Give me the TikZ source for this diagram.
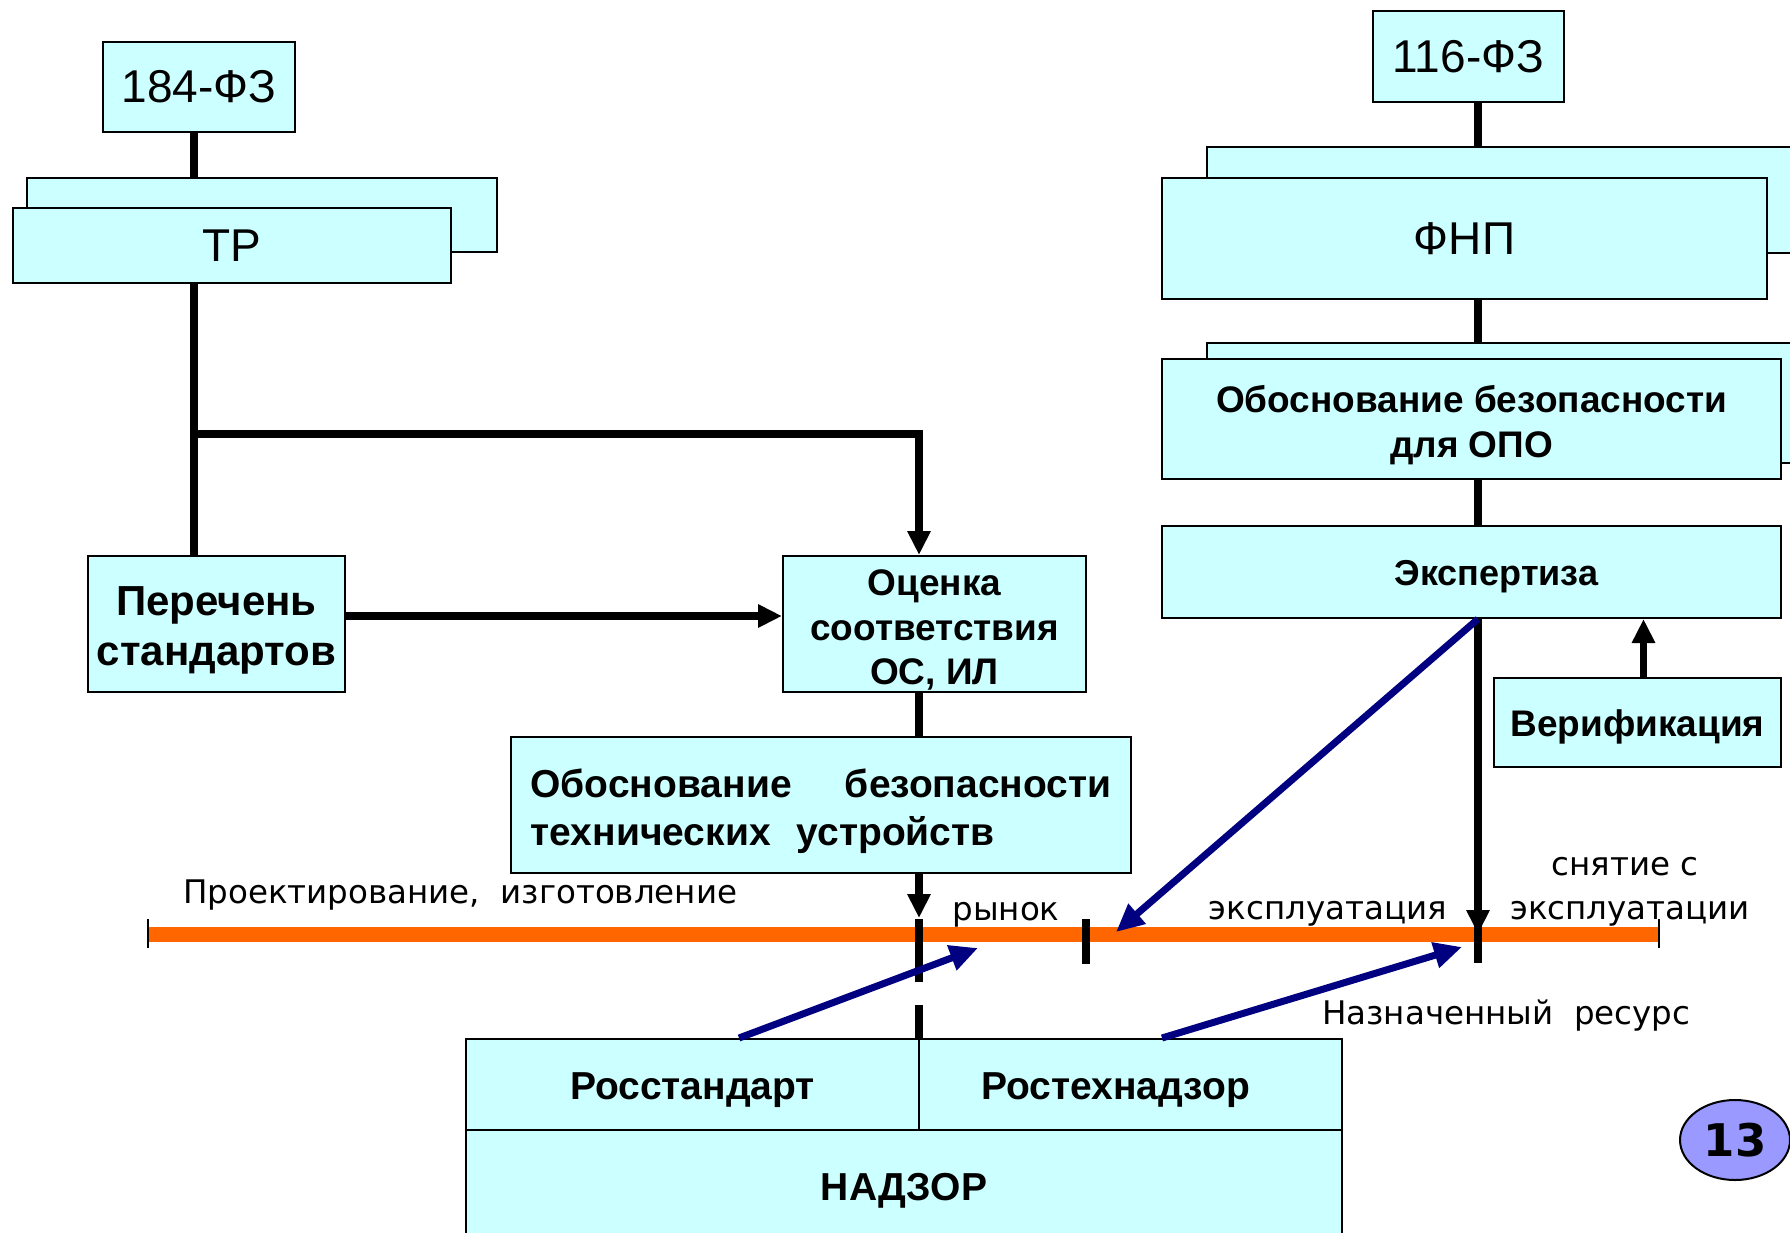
\documentclass[tikz,border=0pt]{standalone}
\usepackage{fontspec}
\setmainfont{Liberation Sans}
\newfontfamily\labelfont{DejaVu Sans}
\usetikzlibrary{arrows.meta,shapes.geometric}
\definecolor{boxcyan}{HTML}{CCFFFF}
\definecolor{lineorange}{HTML}{FF6600}
\definecolor{arrowblue}{HTML}{000080}
\definecolor{badgeblue}{HTML}{9999FF}
\tikzset{
  box/.style={draw=black, line width=2pt, fill=boxcyan, inner sep=0pt, align=center},
  btext/.style 2 args={align=center, inner sep=0pt, yshift=-6pt, font=\bfseries\fontsize{#1}{#2}\selectfont},
  bigtxt/.style={font=\fontsize{46}{55}\selectfont},
  link/.style={line width=7.5pt},
  linkarrow/.style={link, -{Triangle[length=24pt,width=22pt]}},
  bluearrow/.style={arrowblue, line width=7pt, -{Triangle[length=28pt,width=25pt]}},
  lbl/.style={font=\labelfont\fontsize{32.5}{38}\selectfont, inner sep=0pt},
  timeline/.style={lineorange, line width=15pt},
}
\begin{document}
\begin{tikzpicture}[x=1pt,y=-1pt]
    \useasboundingbox (0,0) rectangle (1790,1232);

    % Columns of the trunks and the time line
    \coordinate (colM) at (919,0);
    \coordinate (colR) at (1478,0);
    \coordinate (trunkL) at (194,434);
    \coordinate (tlstart) at (148,934);
    \coordinate (tlend) at (1659,934);

    % Left branch: 184-FZ
    \node[box, bigtxt, minimum width=192pt, minimum height=90pt] (fz184) at (199,87) {184-ФЗ};
    \node[box, minimum width=470pt, minimum height=74pt] (trback) at (262,215) {};
    \node[box, bigtxt, minimum width=438pt, minimum height=75pt] (tr) at (232,245.5) {ТР};
    \node[box, minimum width=257pt, minimum height=136pt,
        label={[btext={42}{50}]center:{Перечень\\стандартов}}] (perechen) at (216.5,624) {};
    \node[box, minimum width=303pt, minimum height=136pt,
        label={[btext={37}{44.5}]center:{Оценка\\соответствия\\ОС, ИЛ}}] (ocenka) at (934.5,624) {};
    \node[box, minimum width=620pt, minimum height=136pt,
        label={[btext={39}{48}, text width=581pt, align=left]center:{Обоснование\hfill безопасности\\технических\ \ устройств}}] (obtech) at (821,805) {};

    % Right branch: 116-FZ
    \node[box, bigtxt, minimum width=191pt, minimum height=91pt] (fz116) at (1468.5,56.5) {116-ФЗ};
    \node[box, minimum width=643pt, minimum height=106pt] (fnpback) at (1528.5,200) {};
    \node[box, bigtxt, minimum width=605pt, minimum height=121pt] (fnp) at (1464.5,238.5) {ФНП};
    \node[box, minimum width=643pt, minimum height=120pt] (opoback) at (1528.5,403) {};
    \node[box, minimum width=619pt, minimum height=120pt,
        label={[btext={37}{45}]center:{Обоснование безопасности\\для ОПО}}] (opo) at (1471.5,419) {};
    \node[box, minimum width=619pt, minimum height=92pt,
        label={[btext={36}{43}, xshift=25pt, yshift=1pt]center:Экспертиза}] (ekspert) at (1471.5,572) {};
    \node[box, minimum width=287pt, minimum height=89pt,
        label={[btext={37}{44}, yshift=2pt]center:Верификация}] (verif) at (1637.5,722.5) {};

    % Supervision
    \node[box, minimum width=453pt, minimum height=91pt,
        label={[btext={39}{47}]center:Росстандарт}] (ross) at (692.5,1084.5) {};
    \node[box, minimum width=423pt, minimum height=91pt,
        label={[btext={39}{47}, xshift=-15pt]center:Ростехнадзор}] (rostekh) at (1130.5,1084.5) {};
    \node[box, minimum width=876pt, minimum height=110pt,
        label={[btext={39}{47}]center:НАДЗОР}] (nadzor) at (904,1185) {};

    % Time line
    \draw[timeline] (tlstart) -- (tlend);
    \foreach \p in {tlstart,tlend}
        \draw[line width=2pt] ([yshift=15pt]\p) -- ([yshift=-14pt]\p);
    \draw[link] (colM |- tlstart) ++(0,-15) -- ++(0,63);
    \draw[link] (ross.north -| colM) -- ++(0,-33);
    \draw[link] (1086,919) -- (1086,964);

    % Left connectors
    \draw[link] ([xshift=-5pt]fz184.south) -- (trback.north -| trunkL);
    \draw[link] (tr.south -| trunkL) -- (perechen.north -| trunkL);
    \draw[linkarrow] (trunkL) -| (ocenka.north -| colM);
    \draw[linkarrow] ([yshift=8pt]perechen.east) -- ([yshift=8pt]ocenka.west);
    \draw[link] (ocenka.south -| colM) -- (obtech.north -| colM);
    \draw[linkarrow] (obtech.south -| colM) -- (919,918);

    % Right connectors
    \draw[link] (fz116.south -| colR) -- (fnpback.north -| colR);
    \draw[link] (fnp.south -| colR) -- (opoback.north -| colR);
    \draw[link] (opo.south -| colR) -- (ekspert.north -| colR);
    \draw[link] (ekspert.south -| colR) -- (1478,963);
    \draw[linkarrow] (ekspert.south -| colR) -- (colR |- tlstart);
    \draw[linkarrow] ([xshift=6pt]verif.north) -- ([xshift=6pt]verif.north |- ekspert.south);

    % Blue arrows
    \draw[bluearrow] (ekspert.south -| colR) -- (1116,932);
    \draw[bluearrow] (ross.north -| 739,0) -- (978,948);
    \draw[bluearrow] (rostekh.north -| 1162,0) -- (1462,947);

    % Labels on the time line
    \node[lbl, anchor=base west] (proekt) at (183,903) {Проектирование,\ \ изготовление};
    \node[lbl, anchor=base] (rynok) at (1006,920) {рынок};
    \node[lbl, anchor=base] (ekspl) at (1328,919) {эксплуатация};
    \node[lbl, anchor=base] (snyatie) at (1625,875) {снятие с};
    \node[lbl, anchor=base] (ekspl2) at (1630,919) {эксплуатации};
    \node[lbl, anchor=base west] (resurs) at (1322,1024) {Назначенный\ \ ресурс};

    % Page badge
    \node[ellipse, draw, line width=2pt, fill=badgeblue, minimum width=110pt, minimum height=80pt, inner sep=0pt,
        font=\labelfont\bfseries\fontsize{45}{50}\selectfont] (badge) at (1735,1140) {13};
\end{tikzpicture}
\end{document}
